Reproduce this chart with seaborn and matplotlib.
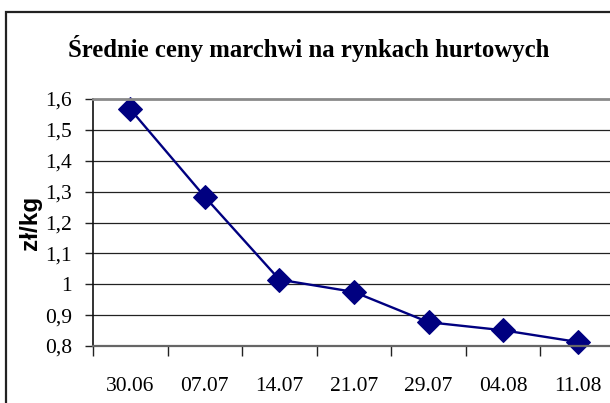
import matplotlib
matplotlib.use("Agg")
import matplotlib.pyplot as plt
import matplotlib.patches as mpatches
import numpy as np
import pandas as pd
import seaborn as sns

dates = ["30.06", "07.07", "14.07", "21.07", "29.07", "04.08", "11.08"]
prices = [1.567, 1.283, 1.015, 0.975, 0.877, 0.851, 0.813]
ytick_vals = [0.8, 0.9, 1.0, 1.1, 1.2, 1.3, 1.4, 1.5, 1.6]
ytick_labels = ["0,8", "0,9", "1", "1,1", "1,2", "1,3", "1,4", "1,5", "1,6"]

sns.set_theme(style="white")
plt.rcParams['font.family'] = ['Liberation Serif', 'DejaVu Serif']
plt.rcParams['text.color'] = 'black'
plt.rcParams['xtick.color'] = 'black'
plt.rcParams['ytick.color'] = 'black'
plt.rcParams['axes.labelcolor'] = 'black'

W, H = 610, 403
fig = plt.figure(figsize=(W / 100, H / 100), dpi=100)
ax = fig.add_axes([93 / W, 1 - 346 / H, (615 - 93) / W, (346 - 99) / H])

df = pd.DataFrame({"pos": np.arange(len(dates)), "price": prices})
sns.lineplot(data=df, x="pos", y="price", ax=ax, color="#000080", lw=1.7,
             marker="D", markersize=12.5, markeredgecolor="#000080",
             markerfacecolor="#000080", sort=False, clip_on=False)

ax.set_xlim(-0.5, len(dates) - 0.5)
ax.set_ylim(0.8, 1.6)
ax.set_yticks(ytick_vals)
ax.set_yticklabels(ytick_labels)
for v in ytick_vals[1:-1]:
    ax.axhline(v, color="#222222", lw=0.9, zorder=0)

ax.set_xticks(np.arange(len(dates) + 1) - 0.5)
ax.set_xticklabels([])
ax.set_xticks(np.arange(len(dates)), minor=True)
ax.set_xticklabels(dates, minor=True)
ax.tick_params(axis="x", which="major", length=7, width=1, color="#222222", direction="out", bottom=True)
ax.tick_params(axis="x", which="minor", length=0, pad=22, labelsize=15.5)
ax.tick_params(axis="y", length=6, width=1, color="#222222", direction="out", left=True, pad=9, labelsize=15.5)

ax.set_xlabel("")
ax.set_ylabel("zł/kg", fontfamily=["Liberation Sans", "DejaVu Sans"], fontweight="bold",
              fontsize=17.5, labelpad=2)

ax.spines["left"].set_color("#111111")
ax.spines["left"].set_linewidth(1.2)
ax.spines["bottom"].set_color("#666666")
ax.spines["bottom"].set_linewidth(1.6)
ax.spines["top"].set_color("#8a8a8a")
ax.spines["top"].set_linewidth(2)
ax.spines["right"].set_visible(False)

fig.text(309 / W, 1 - 49 / H, "Średnie ceny marchwi na rynkach hurtowych",
         ha="center", va="center", fontsize=17.8, fontweight="bold",
         fontfamily=["Liberation Serif", "DejaVu Serif"], color="black")

border = mpatches.Rectangle((6 / W, -0.1), 1.2, 1 - 12 / H + 0.1, transform=fig.transFigure,
                            fill=False, edgecolor="#222222", lw=1.6)
fig.patches.append(border)

fig.savefig("out.png", dpi=100)
